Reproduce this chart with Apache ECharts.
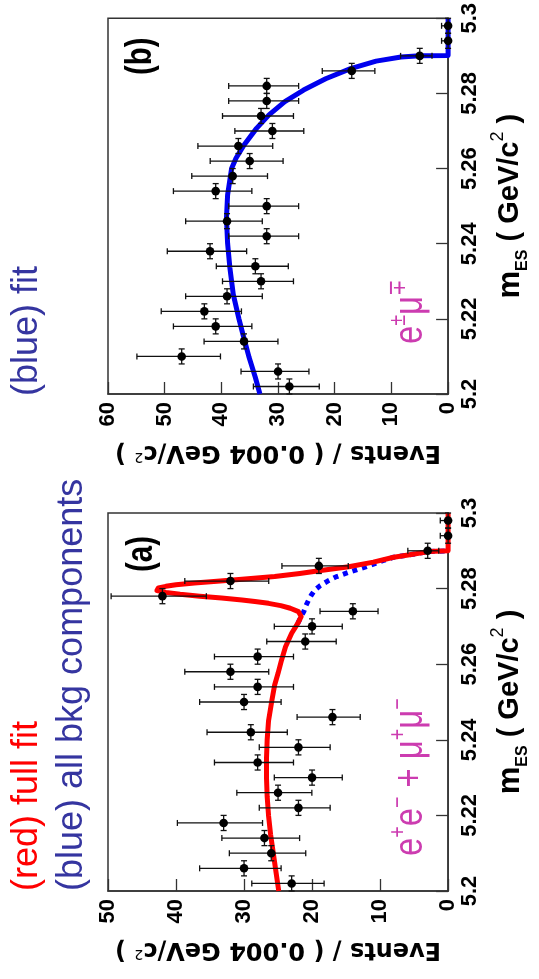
<!DOCTYPE html>
<html><head><meta charset="utf-8">
<script src="https://cdn.jsdelivr.net/npm/echarts@6/dist/echarts.min.js"></script>
<style>html,body{margin:0;padding:0;background:#fff}#c{width:539px;height:979px}</style>
</head><body><div id="c"></div>
<script>
// ---------- data ----------
const binCenters = [5.202,5.206,5.210,5.214,5.218,5.222,5.226,5.230,5.234,5.238,5.242,5.246,5.250,5.254,5.258,5.262,5.266,5.270,5.274,5.278,5.282,5.286,5.290,5.294,5.298];
const binHalfWidth = 0.002;

// panel (a): e+e- + mu+mu-
const countsA = [23,30,26,27,33,22,25,20,28,22,29,17,30,28,32,28,21,20,14,42,32,19,3,0,0];
const errLoA  = [4.77,5.45,5.07,5.17,5.72,4.66,4.97,4.44,5.27,4.66,5.36,4.08,5.45,5.27,5.63,5.27,4.55,4.44,3.70,6.46,5.63,4.32,1.63,0,0];
const errHiA  = [5.86,6.53,6.16,6.26,6.80,5.76,6.06,5.55,6.35,5.76,6.44,5.20,6.53,6.35,6.71,6.35,5.66,5.55,4.83,7.54,6.71,5.43,2.92,1.15,1.15];

// panel (b): e mu
const countsB = [28,30,47,36,41,43,39,33,34,42,32,39,32,41,38,35,37,31,33,32,32,17,5,0,0];
const errLoB  = [5.27,5.45,6.84,5.98,6.38,6.54,6.22,5.72,5.81,6.46,5.63,6.22,5.63,6.38,6.14,5.89,6.06,5.54,5.72,5.63,5.63,4.08,2.16,0,0];
const errHiB  = [6.35,6.53,7.90,7.05,7.46,7.61,7.30,6.80,6.89,7.54,6.71,7.30,6.71,7.46,7.22,6.97,7.14,6.62,6.80,6.71,6.71,5.20,3.38,1.15,1.15];

// full fit (red), panel (a)
const fitA_m = [5.200,5.205,5.210,5.215,5.220,5.225,5.230,5.235,5.240,5.245,5.2505,5.2545,5.2576,5.2610,5.2646,5.2682,5.2708,5.2726,5.2739,5.2748,5.2755,5.2761,5.2766,5.2770,5.2775,5.2780,5.2785,5.2790,5.2795,5.2798,5.2802,5.2806,5.2810,5.2815,5.2820,5.2825,5.2832,5.2840,5.2847,5.2858,5.2870,5.2883,5.2890,5.2898,5.2900,5.3000];
const fitA_v = [24.9,25.3,25.7,26.1,26.4,26.6,26.7,26.7,26.6,26.4,25.9,25.5,25.0,24.5,23.9,23.0,22.1,21.6,22.0,23.2,24.6,26.4,28.4,30.3,33.3,36.5,39.4,41.5,42.8,43.0,42.6,41.5,40.0,37.3,33.5,30.3,25.5,21.8,19.0,14.6,11.0,8.0,5.4,2.8,0,0];

// all background components (blue dotted), panel (a)
const bkgA_m = [5.2708,5.2726,5.2740,5.2755,5.2770,5.2783,5.2796,5.2808,5.2820,5.2831,5.2845,5.2858,5.2874,5.2883,5.2890,5.2898,5.2900];
const bkgA_v = [22.1,21.6,21.2,20.9,20.5,20.1,19.6,18.8,17.7,16.5,14.3,12.0,9.6,8.0,5.4,2.8,0];

// fit (blue), panel (b)
const fitB_m = [5.200,5.2044,5.2097,5.2159,5.2200,5.2265,5.2336,5.2401,5.2468,5.2530,5.2600,5.2628,5.2663,5.2707,5.2743,5.2778,5.2809,5.2839,5.2866,5.2886,5.2897,5.2900,5.2901,5.3000];
const fitB_v = [33.2,34.0,35.1,36.2,36.9,37.9,38.5,38.9,39.1,38.9,38.2,37.4,36.0,33.8,31.6,28.8,25.5,21.6,17.2,12.7,8.3,5.0,0,0];

// axes
const massRange = [5.2, 5.3];
const massStep = 0.02;
const eventsMaxA = 50;
const eventsMaxB = 60;
const eventsStep = 10;

// ---------- helpers ----------
function hasFont(name){
  const ctx = document.createElement('canvas').getContext('2d');
  const t = '5.22 Events mmm WWW';
  ctx.font = '40px monospace'; const w0 = ctx.measureText(t).width;
  ctx.font = '40px "' + name + '", monospace'; const w1 = ctx.measureText(t).width;
  return Math.abs(w0 - w1) > 0.5;
}
const narrowOK = hasFont('Liberation Sans Narrow');
const NARROW = narrowOK ? 'Liberation Sans Narrow' : 'Liberation Sans';
const nScale = narrowOK ? 1 : 0.82;
const tickFont = narrowOK ? 26 : 22;

const AXIS_COLOR = '#333';
const MAG = '#cc3cb0';
const BLUE_TXT = '#3535a0';

function pointsData(counts, lo, hi){
  return binCenters.map((m,i)=>[counts[i], m, counts[i]-lo[i], counts[i]+hi[i], m-binHalfWidth, m+binHalfWidth]);
}
function curveData(ms, vs){ return ms.map((m,i)=>[vs[i], m]); }

function renderPoint(params, api){
  const v = api.value(0), m = api.value(1);
  const c = api.coord([v, m]);
  const pl = api.coord([api.value(2), m]);
  const ph = api.coord([api.value(3), m]);
  const pa = api.coord([v, api.value(4)]);
  const pb = api.coord([v, api.value(5)]);
  const st = {stroke:'#111', lineWidth:1.3, fill:null};
  const cap = 3;
  return {type:'group', children:[
    {type:'line', shape:{x1:pl[0], y1:c[1], x2:ph[0], y2:c[1]}, style:st},
    {type:'line', shape:{x1:pl[0], y1:c[1]-cap, x2:pl[0], y2:c[1]+cap}, style:st},
    {type:'line', shape:{x1:ph[0], y1:c[1]-cap, x2:ph[0], y2:c[1]+cap}, style:st},
    {type:'line', shape:{x1:c[0], y1:pa[1], x2:c[0], y2:pb[1]}, style:st},
    {type:'line', shape:{x1:c[0]-cap, y1:pa[1], x2:c[0]+cap, y2:pa[1]}, style:st},
    {type:'line', shape:{x1:c[0]-cap, y1:pb[1], x2:c[0]+cap, y2:pb[1]}, style:st},
    {type:'circle', shape:{cx:c[0], cy:c[1], r:4.3}, style:{fill:'#000', stroke:null}}
  ]};
}

function eventsAxis(gi, max){
  return {
    gridIndex: gi, type:'value', inverse:true, min:0, max:max, interval:eventsStep, position:'bottom',
    axisLine:{show:true, onZero:false, lineStyle:{color:AXIS_COLOR, width:1.5}},
    axisTick:{show:true, inside:true, length:12, lineStyle:{color:AXIS_COLOR, width:1.3}},
    splitLine:{show:false},
    axisLabel:{rotate:90, margin:8, fontSize:tickFont, fontWeight:'bold', fontFamily:NARROW, color:'#000'},
    name:'Events / ( 0.004 GeV/c{s|2} )', nameLocation:'middle', nameRotate:180, nameGap:46,
    nameTextStyle:{fontFamily:'DejaVu Sans', fontWeight:'bold', fontSize:24, color:'#000',
      rich:{s:{fontFamily:'DejaVu Sans', fontWeight:'normal', fontSize:14, color:'#000', verticalAlign:'top', lineHeight:14}}}
  };
}
function massAxis(gi){
  return {
    gridIndex: gi, type:'value', min:massRange[0], max:massRange[1], interval:massStep, position:'right',
    axisLine:{show:true, onZero:false, lineStyle:{color:AXIS_COLOR, width:1.5}},
    axisTick:{show:true, inside:true, length:12, lineStyle:{color:AXIS_COLOR, width:1.3}},
    splitLine:{show:false},
    axisLabel:{rotate:90, margin:11, fontSize:tickFont, fontWeight:'bold', fontFamily:NARROW, color:'#000'},
    name:'{m|m}{e|ES}{t| ( GeV/c}{s|2}{t| )}', nameLocation:'middle', nameRotate:90, nameGap:37,
    nameTextStyle:{fontFamily:NARROW, fontWeight:'bold', fontSize:Math.round(35*nScale), color:'#000',
      rich:{
        m:{fontFamily:NARROW, fontWeight:'bold', fontSize:Math.round(38*nScale), color:'#000', lineHeight:42},
        e:{fontFamily:NARROW, fontWeight:'bold', fontSize:Math.round(20*nScale), color:'#000', verticalAlign:'bottom', lineHeight:18},
        t:{fontFamily:NARROW, fontWeight:'bold', fontSize:Math.round(35*nScale), color:'#000', lineHeight:42},
        s:{fontFamily:NARROW, fontWeight:'normal', fontSize:Math.round(22*nScale), color:'#000', verticalAlign:'top', lineHeight:16}
      }}
  };
}

function txt(x, y, text, opts){
  const style = Object.assign({text:text, textAlign:'left', textVerticalAlign:'middle'}, opts.style);
  return {type:'text', x:x, y:y, rotation:Math.PI/2, scaleX:opts.scaleX||1, scaleY:1, style:style, z:10};
}
const magRich = {
  b:{fontFamily:NARROW, fontSize:40, fill:MAG, lineHeight:50},
  s:{fontFamily:NARROW, fontSize:24, fill:MAG, verticalAlign:'top', lineHeight:20}
};

const option = {
  animation:false,
  backgroundColor:'#fff',
  grid:[
    {left:108, top:16, width:361, height:378, show:true, borderColor:AXIS_COLOR, borderWidth:1.5, backgroundColor:'transparent'},
    {left:108, top:513, width:361, height:378, show:true, borderColor:AXIS_COLOR, borderWidth:1.5, backgroundColor:'transparent'}
  ],
  xAxis:[eventsAxis(0, eventsMaxB), eventsAxis(1, eventsMaxA)],
  yAxis:[massAxis(0), massAxis(1)],
  series:[
    {name:'fit (b)', type:'line', xAxisIndex:0, yAxisIndex:0, data:curveData(fitB_m, fitB_v), showSymbol:false,
      lineStyle:{color:'#0000ee', width:5, join:'round'}, z:2, silent:true},
    {name:'data (b)', type:'custom', xAxisIndex:0, yAxisIndex:0, data:pointsData(countsB, errLoB, errHiB),
      renderItem:renderPoint, encode:{x:0, y:1}, z:5, silent:true},
    {name:'all bkg components (a)', type:'line', xAxisIndex:1, yAxisIndex:1, data:curveData(bkgA_m, bkgA_v), showSymbol:false,
      lineStyle:{color:'#0000ff', width:5, type:[5,5]}, z:2, silent:true},
    {name:'full fit (a)', type:'line', xAxisIndex:1, yAxisIndex:1, data:curveData(fitA_m, fitA_v), showSymbol:false,
      lineStyle:{color:'#ff0000', width:5, join:'round'}, z:3, silent:true},
    {name:'data (a)', type:'custom', xAxisIndex:1, yAxisIndex:1, data:pointsData(countsA, errLoA, errHiA),
      renderItem:renderPoint, encode:{x:0, y:1}, z:5, silent:true}
  ],
  graphic:[
    txt(27, 891, '(red) full fit', {style:{fill:'#ff0000', fontSize:36, fontFamily:'Liberation Sans'}}),
    txt(72, 891, '(blue) all bkg components', {style:{fill:BLUE_TXT, fontSize:36, fontFamily:'Liberation Sans'}}),
    txt(27, 396, '(blue) fit', {style:{fill:BLUE_TXT, fontSize:36, fontFamily:'Liberation Sans'}}),
    txt(142, 572, '(a)', {scaleX:nScale, style:{fill:'#000', fontSize:36, fontWeight:'bold', fontFamily:NARROW}}),
    txt(141, 75, '(b)', {scaleX:nScale, style:{fill:'#000', fontSize:36, fontWeight:'bold', fontFamily:NARROW}}),
    txt(411, 856, '{b|e}{s|+}{b|e}{s|\u2212}{b| + }{b|\u03bc}{s|+}{b|\u03bc}{s|\u2212}', {scaleX:nScale, style:{fill:MAG, fontSize:40, fontFamily:NARROW, rich:magRich}}),
    txt(411, 344, '{b|e}{s|\u00b1}{b|\u03bc}{s|\u2213}', {scaleX:nScale, style:{fill:MAG, fontSize:40, fontFamily:NARROW, rich:magRich}})
  ]
};

const chart = echarts.init(document.getElementById('c'), null, {renderer:'canvas'});
chart.setOption(option);
</script>
</body></html>
